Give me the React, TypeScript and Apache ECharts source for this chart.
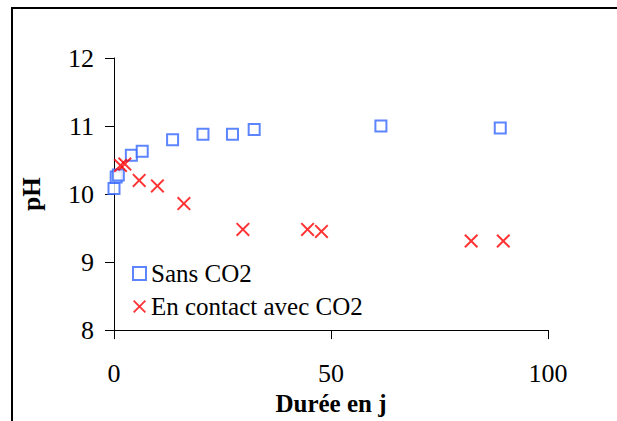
import React, { useEffect, useRef } from "react";
import * as echarts from "echarts";

const sansCO2X = [0, 0.5, 1, 4, 6.5, 13.5, 20.5, 27.3, 32.3, 61.5, 89];
const sansCO2Y = [10.08, 10.25, 10.28, 10.57, 10.63, 10.8, 10.88, 10.88, 10.95, 11.0, 10.97];
const avecCO2X = [1.5, 2.5, 5.8, 10, 16.1, 29.7, 44.6, 47.8, 82.3, 89.7];
const avecCO2Y = [10.42, 10.44, 10.2, 10.12, 9.86, 9.48, 9.48, 9.45, 9.31, 9.31];
const seriesNames = ["Sans CO2", "En contact avec CO2"];
const xTicks = [0, 50, 100];
const yTicks = [8, 9, 10, 11, 12];

const FONT = "Liberation Serif";
const CROSS =
  "path://M0,1L1,0L5,4L9,0L10,1L6,5L10,9L9,10L5,6L1,10L0,9L4,5Z";

export default function App() {
  const ref = useRef<HTMLDivElement>(null);
  useEffect(() => {
    if (!ref.current) return;
    const chart = echarts.init(ref.current, null, { renderer: "svg" });
    chart.setOption({
      animation: false,
      backgroundColor: "#ffffff",
      textStyle: { fontFamily: FONT },
      grid: { left: 114, right: 69, top: 58, bottom: 86 },
      graphic: [
        {
          type: "rect",
          shape: { x: 12, y: 8, width: 800, height: 600 },
          style: { fill: "none", stroke: "#000", lineWidth: 2 },
          silent: true,
        },
      ],
      legend: {
        orient: "vertical",
        left: 127,
        top: 256,
        itemGap: 8,
        itemWidth: 13,
        itemHeight: 13,
        textStyle: { fontFamily: FONT, fontSize: 25, color: "#000" },
        data: [
          { name: seriesNames[0], icon: "rect" },
          { name: seriesNames[1], icon: CROSS },
        ],
      },
      xAxis: {
        type: "value",
        min: xTicks[0],
        max: xTicks[xTicks.length - 1],
        interval: 50,
        name: "Durée en j",
        nameLocation: "middle",
        nameGap: 60,
        nameTextStyle: { fontFamily: FONT, fontSize: 25, fontWeight: "bold", color: "#000" },
        axisLine: { onZero: false, lineStyle: { color: "#000", width: 1 } },
        axisTick: { show: true, inside: false, length: 9, lineStyle: { color: "#000" } },
        axisLabel: { fontFamily: FONT, fontSize: 26, color: "#000", margin: 30 },
        splitLine: { show: false },
      },
      yAxis: {
        type: "value",
        min: yTicks[0],
        max: yTicks[yTicks.length - 1],
        interval: 1,
        name: "pH",
        nameLocation: "middle",
        nameGap: 70,
        nameRotate: 90,
        nameTextStyle: { fontFamily: FONT, fontSize: 25, fontWeight: "bold", color: "#000" },
        axisLine: { show: true, onZero: false, lineStyle: { color: "#000", width: 1 } },
        axisTick: { show: true, inside: false, length: 9, lineStyle: { color: "#000" } },
        axisLabel: { fontFamily: FONT, fontSize: 26, color: "#000", margin: 20 },
        splitLine: { show: false },
      },
      series: [
        {
          name: seriesNames[0],
          type: "scatter",
          symbol: "rect",
          symbolSize: 11,
          itemStyle: { color: "#ffffff", borderColor: "#3366ff", borderWidth: 2 },
          data: sansCO2X.map((x, i) => [x, sansCO2Y[i]]),
        },
        {
          name: seriesNames[1],
          type: "scatter",
          symbol: CROSS,
          symbolSize: 14,
          itemStyle: { color: "#ff0000" },
          data: avecCO2X.map((x, i) => [x, avecCO2Y[i]]),
        },
      ],
    });
    return () => chart.dispose();
  }, []);
  return (
    <div
      ref={ref}
      style={{ position: "fixed", left: 0, top: 0, width: 617, height: 421, background: "#fff" }}
    />
  );
}
